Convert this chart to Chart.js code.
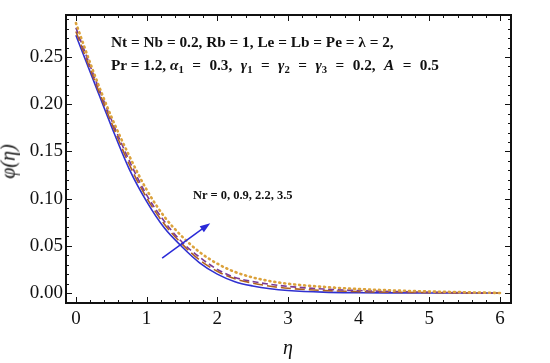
<!DOCTYPE html>
<html>
<head>
<meta charset="utf-8">
<script src="https://cdn.jsdelivr.net/npm/chart.js@4.4.1/dist/chart.umd.min.js"></script>
<style>
  html, body { margin: 0; padding: 0; background: #fff; }
  #wrap { position: relative; width: 550px; height: 363px; }
  canvas { position: absolute; left: 0; top: 0; }
  .note { position: absolute; font-family: "Liberation Serif", "Times New Roman", serif; font-weight: bold; color: #111; white-space: nowrap; }
  .note i { font-style: italic; }
  .note sub { font-size: 0.7em; vertical-align: -0.25em; line-height: 0; }
  .axt { position: absolute; font-family: "Liberation Serif", "Times New Roman", serif; font-style: italic; font-size: 20px; color: #111; }
</style>
</head>
<body>
<div id="wrap">
  <canvas id="phiChart" width="550" height="363"></canvas>
  <div class="note" style="left:111px; top:33px; font-size:15.3px;">Nt = Nb = 0.2, Rb = 1, Le = Lb = Pe = λ = 2,</div>
  <div class="note" style="left:111px; top:56px; font-size:15.3px;">Pr = 1.2, <span style="word-spacing:4.6px"><i>α</i><sub>1</sub> = 0.3, <i>γ</i><sub>1</sub> = <i>γ</i><sub>2</sub> = <i>γ</i><sub>3</sub> = 0.2, <i>A</i> = 0.5</span></div>
  <div class="note" style="left:193px; top:188px; font-size:12.5px;">Nr = 0, 0.9, 2.2, 3.5</div>
  <div class="axt" style="left:283px; top:336px;">η</div>
  <div class="axt" style="left:-9px; top:150px; transform:rotate(-90deg);">φ(η)</div>
</div>
<script>
// eta grid and phi(eta) profiles for Nr = 0, 0.9, 2.2, 3.5
const etaValues = [0, 0.25, 0.5, 0.75, 1, 1.25, 1.5, 1.75, 2, 2.25, 2.5, 2.75, 3, 3.5, 4, 4.5, 5, 5.5, 6];
const phiNr0   = [0.273, 0.225, 0.177, 0.132, 0.097, 0.069, 0.049, 0.032, 0.020, 0.012, 0.0075, 0.0045, 0.0027, 0.0009, 0.0003, 0.0001, 0, 0, 0];
const phiNr09  = [0.277, 0.228, 0.181, 0.137, 0.101, 0.073, 0.052, 0.035, 0.023, 0.015, 0.0105, 0.0072, 0.005, 0.0027, 0.0015, 0.0008, 0.0004, 0.0001, 0];
const phiNr22  = [0.281, 0.231, 0.184, 0.141, 0.104, 0.076, 0.054, 0.038, 0.025, 0.0165, 0.0122, 0.0092, 0.0070, 0.0042, 0.0026, 0.0015, 0.0008, 0.0003, 0];
const phiNr35  = [0.286, 0.234, 0.187, 0.146, 0.1095, 0.081, 0.060, 0.0433, 0.0311, 0.0223, 0.0165, 0.0125, 0.0098, 0.0065, 0.0042, 0.0027, 0.0016, 0.0008, 0];
const xTickValues = [0, 1, 2, 3, 4, 5, 6];
const yTickValues = [0, 0.05, 0.10, 0.15, 0.20, 0.25];
// arrow marking increasing Nr (tail, head) in data units
const arrowTail = [1.22, 0.037];
const arrowHead = [1.90, 0.074];

const serif = '"Liberation Serif", "Times New Roman", serif';

function toPoints(ys) {
    return etaValues.map((x, i) => ({ x: x, y: ys[i] }));
}

// frame with inward ticks on all four sides, like the original plot
const frameTicks = {
    id: 'frameTicks',
    afterDraw(chart) {
        const { ctx, chartArea: a, scales: { x, y } } = chart;
        ctx.save();
        ctx.strokeStyle = '#111';
        ctx.lineWidth = 1;
        ctx.beginPath();
        for (let i = 0; i <= 30; i++) {
            const v = i * 0.2;
            const px = Math.round(x.getPixelForValue(v)) + 0.5;
            const len = (i % 5 === 0) ? 6 : 3;
            ctx.moveTo(px, a.bottom); ctx.lineTo(px, a.bottom - len);
            ctx.moveTo(px, a.top); ctx.lineTo(px, a.top + len);
        }
        for (let i = 0; i <= 29; i++) {
            const v = i * 0.01;
            const py = Math.round(y.getPixelForValue(v)) + 0.5;
            const len = (i % 5 === 0) ? 6 : 3;
            ctx.moveTo(a.left, py); ctx.lineTo(a.left + len, py);
            ctx.moveTo(a.right, py); ctx.lineTo(a.right - len, py);
        }
        ctx.stroke();
        ctx.lineWidth = 2;
        ctx.strokeRect(a.left, a.top, a.right - a.left, a.bottom - a.top);

        // arrow
        const x0 = x.getPixelForValue(arrowTail[0]), y0 = y.getPixelForValue(arrowTail[1]);
        const x1 = x.getPixelForValue(arrowHead[0]), y1 = y.getPixelForValue(arrowHead[1]);
        const ang = Math.atan2(y1 - y0, x1 - x0);
        ctx.strokeStyle = '#2a2ad8';
        ctx.fillStyle = '#2a2ad8';
        ctx.lineWidth = 1.5;
        ctx.beginPath();
        ctx.moveTo(x0, y0);
        ctx.lineTo(x1 - 6 * Math.cos(ang), y1 - 6 * Math.sin(ang));
        ctx.stroke();
        ctx.beginPath();
        ctx.moveTo(x1, y1);
        ctx.lineTo(x1 - 11 * Math.cos(ang - 0.33), y1 - 11 * Math.sin(ang - 0.33));
        ctx.lineTo(x1 - 11 * Math.cos(ang + 0.33), y1 - 11 * Math.sin(ang + 0.33));
        ctx.closePath();
        ctx.fill();
        ctx.restore();
    }
};

new Chart(document.getElementById('phiChart').getContext('2d'), {
    type: 'line',
    data: {
        datasets: [
            { label: 'Nr = 3.5', data: toPoints(phiNr35), borderColor: '#dca23c', borderWidth: 2.6, borderDash: [1, 4], borderCapStyle: 'round' },
            { label: 'Nr = 2.2', data: toPoints(phiNr22), borderColor: '#7a3a94', borderWidth: 1.6, borderDash: [6, 3.5] },
            { label: 'Nr = 0.9', data: toPoints(phiNr09), borderColor: '#b0621e', borderWidth: 1.6, borderDash: [10, 4] },
            { label: 'Nr = 0',   data: toPoints(phiNr0),  borderColor: '#3030d0', borderWidth: 1.6 }
        ]
    },
    options: {
        responsive: false,
        animation: false,
        layout: { padding: { left: 0, right: 39, top: 15, bottom: 0 } },
        elements: {
            point: { radius: 0 },
            line: { cubicInterpolationMode: 'monotone', fill: false }
        },
        plugins: { legend: { display: false }, tooltip: { enabled: false } },
        scales: {
            x: {
                type: 'linear',
                min: -0.14,
                max: 6.155,
                grid: { display: false, drawTicks: false },
                border: { display: false },
                afterBuildTicks: s => { s.ticks = xTickValues.map(v => ({ value: v })); },
                afterFit: s => { s.height = 60; },
                ticks: { color: '#111', font: { family: serif, size: 19 }, padding: 5, maxRotation: 0, callback: v => String(v) }
            },
            y: {
                min: -0.0106,
                max: 0.2945,
                grid: { display: false, drawTicks: false },
                border: { display: false },
                afterBuildTicks: s => { s.ticks = yTickValues.map(v => ({ value: v })); },
                afterFit: s => { s.width = 66; },
                ticks: { color: '#111', font: { family: serif, size: 19 }, padding: 3, callback: v => Number(v).toFixed(2) }
            }
        }
    },
    plugins: [frameTicks]
});
</script>
</body>
</html>
